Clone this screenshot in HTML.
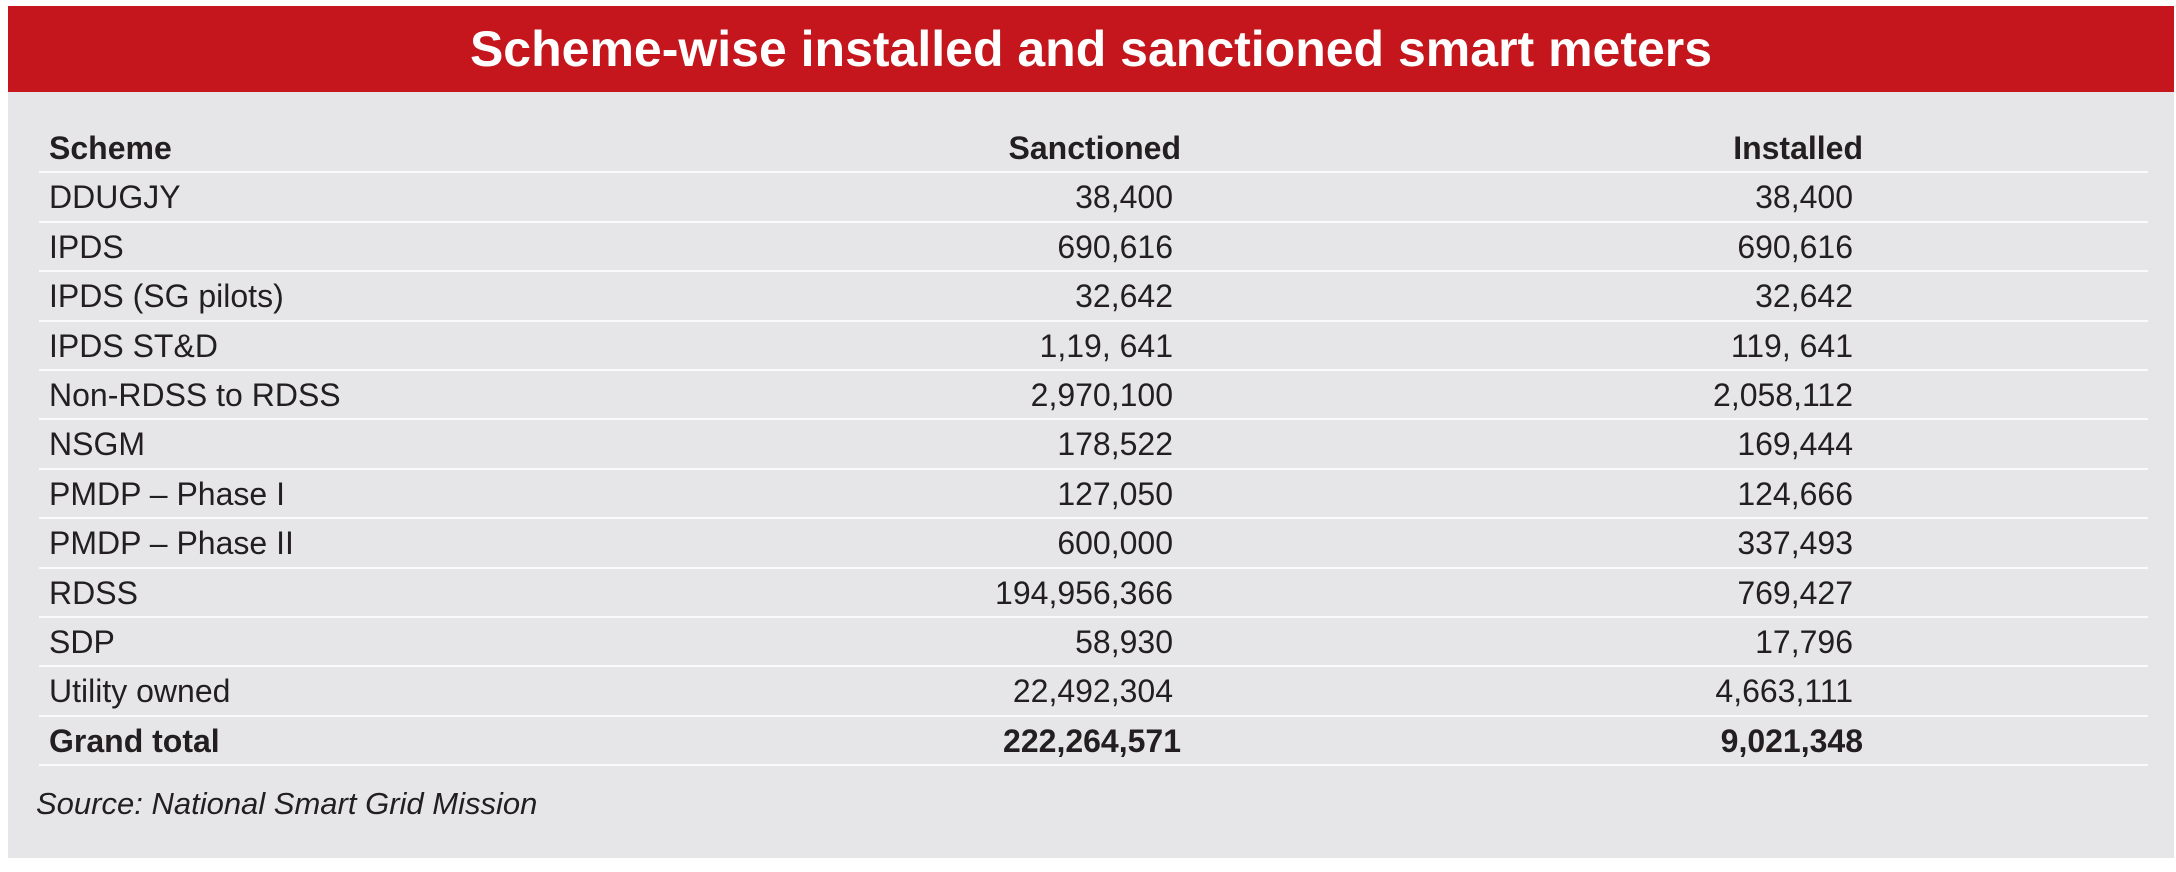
<!DOCTYPE html>
<html><head><style>
body{margin:0;width:2176px;height:872px;background:#fff;position:relative;overflow:hidden;font-family:"Liberation Sans",Arial,sans-serif;color:#231f20}
.panel{position:absolute;left:8px;top:6px;width:2166px;height:852px;background:#e6e6e8}
.head{position:absolute;left:0;top:0;width:100%;height:86px;background:#c4161c;color:#fff;font-weight:bold;font-size:50px;text-align:center;line-height:86px}
.row{position:absolute;left:39px;width:2109px;height:47.4px;font-size:32px;line-height:49.4px;border-bottom:2px solid #fafafa}
.c1{position:absolute;left:10px;top:0}
.c2{position:absolute;right:975px;top:0}
.c3{position:absolute;right:295px;top:0}
.b{font-weight:bold}
.b .c2{right:967px}
.b .c3{right:285px}
.src{position:absolute;left:36px;top:786px;font-size:31px;font-style:italic}
</style></head><body>
<div class="panel">
<div class="head">Scheme-wise installed and sanctioned smart meters</div>
</div>
<div class="row b" style="top:124px"><span class="c1">Scheme</span><span class="c2">Sanctioned</span><span class="c3">Installed</span></div>
<div class="row" style="top:173.4px"><span class="c1">DDUGJY</span><span class="c2">38,400</span><span class="c3">38,400</span></div>
<div class="row" style="top:222.8px"><span class="c1">IPDS</span><span class="c2">690,616</span><span class="c3">690,616</span></div>
<div class="row" style="top:272.2px"><span class="c1">IPDS (SG pilots)</span><span class="c2">32,642</span><span class="c3">32,642</span></div>
<div class="row" style="top:321.6px"><span class="c1">IPDS ST&amp;D</span><span class="c2">1,19, 641</span><span class="c3">119, 641</span></div>
<div class="row" style="top:371px"><span class="c1">Non-RDSS to RDSS</span><span class="c2">2,970,100</span><span class="c3">2,058,112</span></div>
<div class="row" style="top:420.4px"><span class="c1">NSGM</span><span class="c2">178,522</span><span class="c3">169,444</span></div>
<div class="row" style="top:469.8px"><span class="c1">PMDP – Phase I</span><span class="c2">127,050</span><span class="c3">124,666</span></div>
<div class="row" style="top:519.2px"><span class="c1">PMDP – Phase II</span><span class="c2">600,000</span><span class="c3">337,493</span></div>
<div class="row" style="top:568.6px"><span class="c1">RDSS</span><span class="c2">194,956,366</span><span class="c3">769,427</span></div>
<div class="row" style="top:618px"><span class="c1">SDP</span><span class="c2">58,930</span><span class="c3">17,796</span></div>
<div class="row" style="top:667.4px"><span class="c1">Utility owned</span><span class="c2">22,492,304</span><span class="c3">4,663,111</span></div>
<div class="row b" style="top:716.8px"><span class="c1">Grand total</span><span class="c2">222,264,571</span><span class="c3">9,021,348</span></div>
<div class="src">Source: National Smart Grid Mission</div>
</body></html>
